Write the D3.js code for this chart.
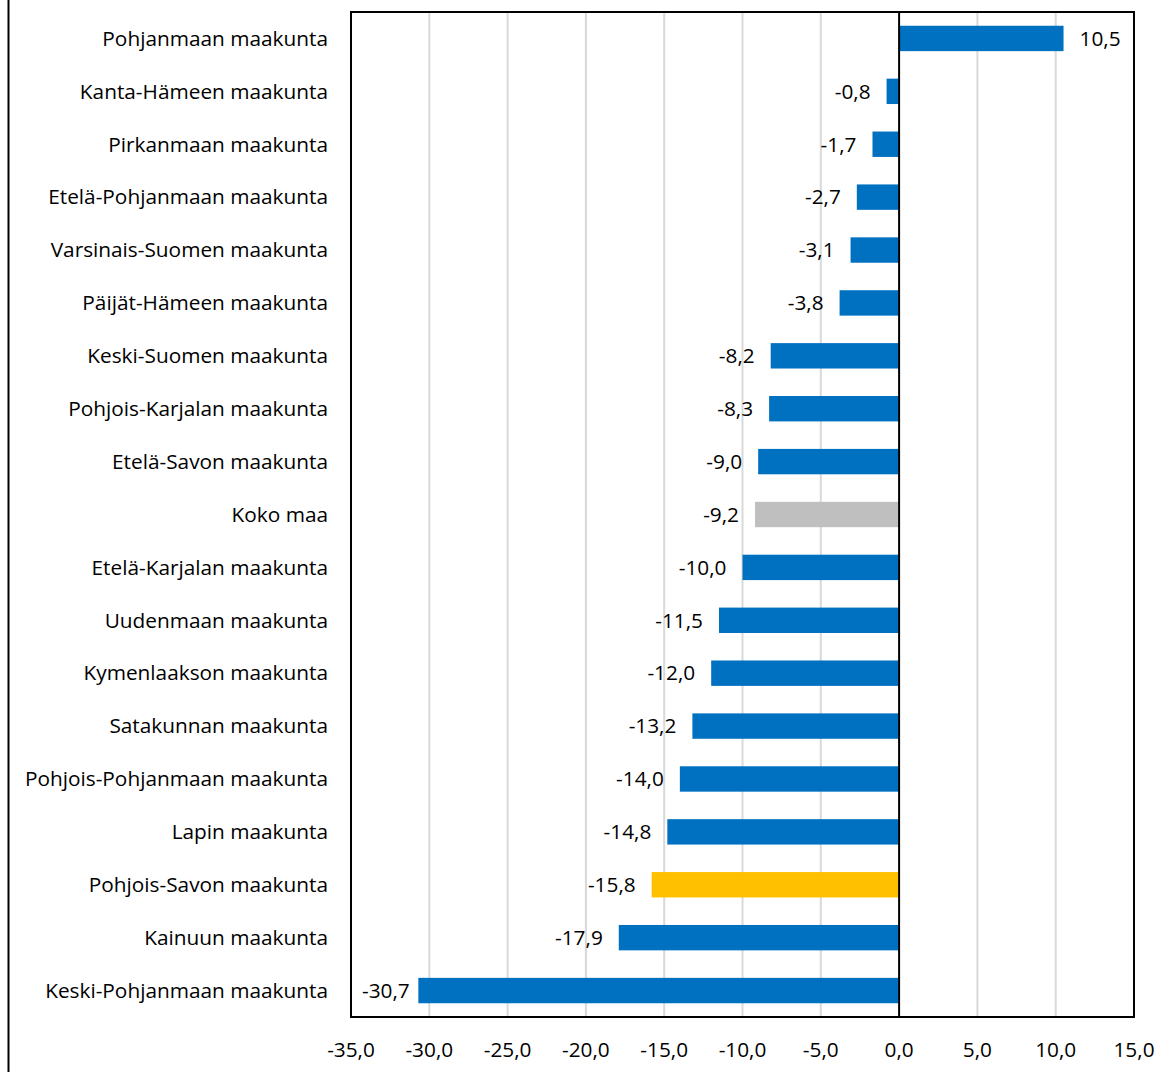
<!DOCTYPE html>
<html>
<head>
<meta charset="utf-8">
<script src="https://d3js.org/d3.v7.min.js"></script>
<style>
  body { margin: 0; background: #fff; }
  svg text { font-family: "Open Sans", "Noto Sans", sans-serif; fill: #000; }
</style>
</head>
<body>
<svg width="1173" height="1072"></svg>
<script>
var regions = [
  "Pohjanmaan maakunta", "Kanta-Hämeen maakunta", "Pirkanmaan maakunta",
  "Etelä-Pohjanmaan maakunta", "Varsinais-Suomen maakunta", "Päijät-Hämeen maakunta",
  "Keski-Suomen maakunta", "Pohjois-Karjalan maakunta", "Etelä-Savon maakunta",
  "Koko maa", "Etelä-Karjalan maakunta", "Uudenmaan maakunta",
  "Kymenlaakson maakunta", "Satakunnan maakunta", "Pohjois-Pohjanmaan maakunta",
  "Lapin maakunta", "Pohjois-Savon maakunta", "Kainuun maakunta",
  "Keski-Pohjanmaan maakunta"
];
var values = [10.5, -0.8, -1.7, -2.7, -3.1, -3.8, -8.2, -8.3, -9.0, -9.2,
              -10.0, -11.5, -12.0, -13.2, -14.0, -14.8, -15.8, -17.9, -30.7];
var xTicks = [-35, -30, -25, -20, -15, -10, -5, 0, 5, 10, 15];

var plotLeft = 351, plotRight = 1134, plotTop = 12, plotBottom = 1017;
var fontSize = 20.8;
var svg = d3.select("svg");

// outer frame edge on the left
svg.append("line")
    .attr("x1", 8.5).attr("x2", 8.5)
    .attr("y1", 0).attr("y2", 1072)
    .attr("stroke", "#000").attr("stroke-width", 2);

var xScale = d3.scaleLinear().domain([-35, 15]).range([plotLeft, plotRight]);
var yScale = d3.scaleBand().domain(regions).range([plotTop, plotBottom])
               .paddingInner(0.52).paddingOuter(0.26);

var fmt = d => d3.format(".1f")(d).replace("−", "-").replace(".", ",");

// gridlines
svg.append("g")
  .selectAll("line")
  .data(xTicks.filter(d => d !== -35 && d !== 15 && d !== 0))
  .enter()
  .append("line")
    .attr("x1", d => xScale(d)).attr("x2", d => xScale(d))
    .attr("y1", plotTop).attr("y2", plotBottom)
    .attr("stroke", "#d9d9d9").attr("stroke-width", 2);

// bars
svg.append("g")
  .selectAll("rect")
  .data(values)
  .enter()
  .append("rect")
    .attr("x", d => xScale(Math.min(0, d)))
    .attr("y", (d, i) => yScale(regions[i]))
    .attr("width", d => Math.abs(xScale(d) - xScale(0)))
    .attr("height", yScale.bandwidth())
    .attr("fill", (d, i) => regions[i] === "Koko maa" ? "#bfbfbf"
                         : regions[i] === "Pohjois-Savon maakunta" ? "#ffc000" : "#0070c0");

// zero line
svg.append("line")
    .attr("x1", xScale(0)).attr("x2", xScale(0))
    .attr("y1", plotTop).attr("y2", plotBottom)
    .attr("stroke", "#000").attr("stroke-width", 2);

// plot border
svg.append("rect")
    .attr("x", plotLeft).attr("y", plotTop)
    .attr("width", plotRight - plotLeft).attr("height", plotBottom - plotTop)
    .attr("fill", "none").attr("stroke", "#000").attr("stroke-width", 2);

// value labels (kept inside the plot area like Excel does)
svg.append("g")
  .selectAll("text")
  .data(values)
  .enter()
  .append("text")
    .attr("y", (d, i) => yScale(regions[i]) + yScale.bandwidth() / 2)
    .attr("dy", "0.35em")
    .attr("font-size", fontSize)
    .attr("text-anchor", d => d < 0 ? "end" : "start")
    .text(fmt)
    .attr("x", function(d) {
      if (d >= 0) return xScale(d) + 16;
      var w = this.getComputedTextLength();
      return Math.max(xScale(d) - 16, plotLeft + 11 + w);
    });

// category labels
svg.append("g")
  .selectAll("text")
  .data(regions)
  .enter()
  .append("text")
    .attr("x", 328)
    .attr("y", d => yScale(d) + yScale.bandwidth() / 2)
    .attr("dy", "0.35em")
    .attr("font-size", fontSize)
    .attr("text-anchor", "end")
    .text(d => d);

// x axis labels
svg.append("g")
  .selectAll("text")
  .data(xTicks)
  .enter()
  .append("text")
    .attr("x", d => xScale(d))
    .attr("y", 1050)
    .attr("dy", "0.35em")
    .attr("font-size", fontSize)
    .attr("text-anchor", "middle")
    .text(fmt);
</script>
</body>
</html>
